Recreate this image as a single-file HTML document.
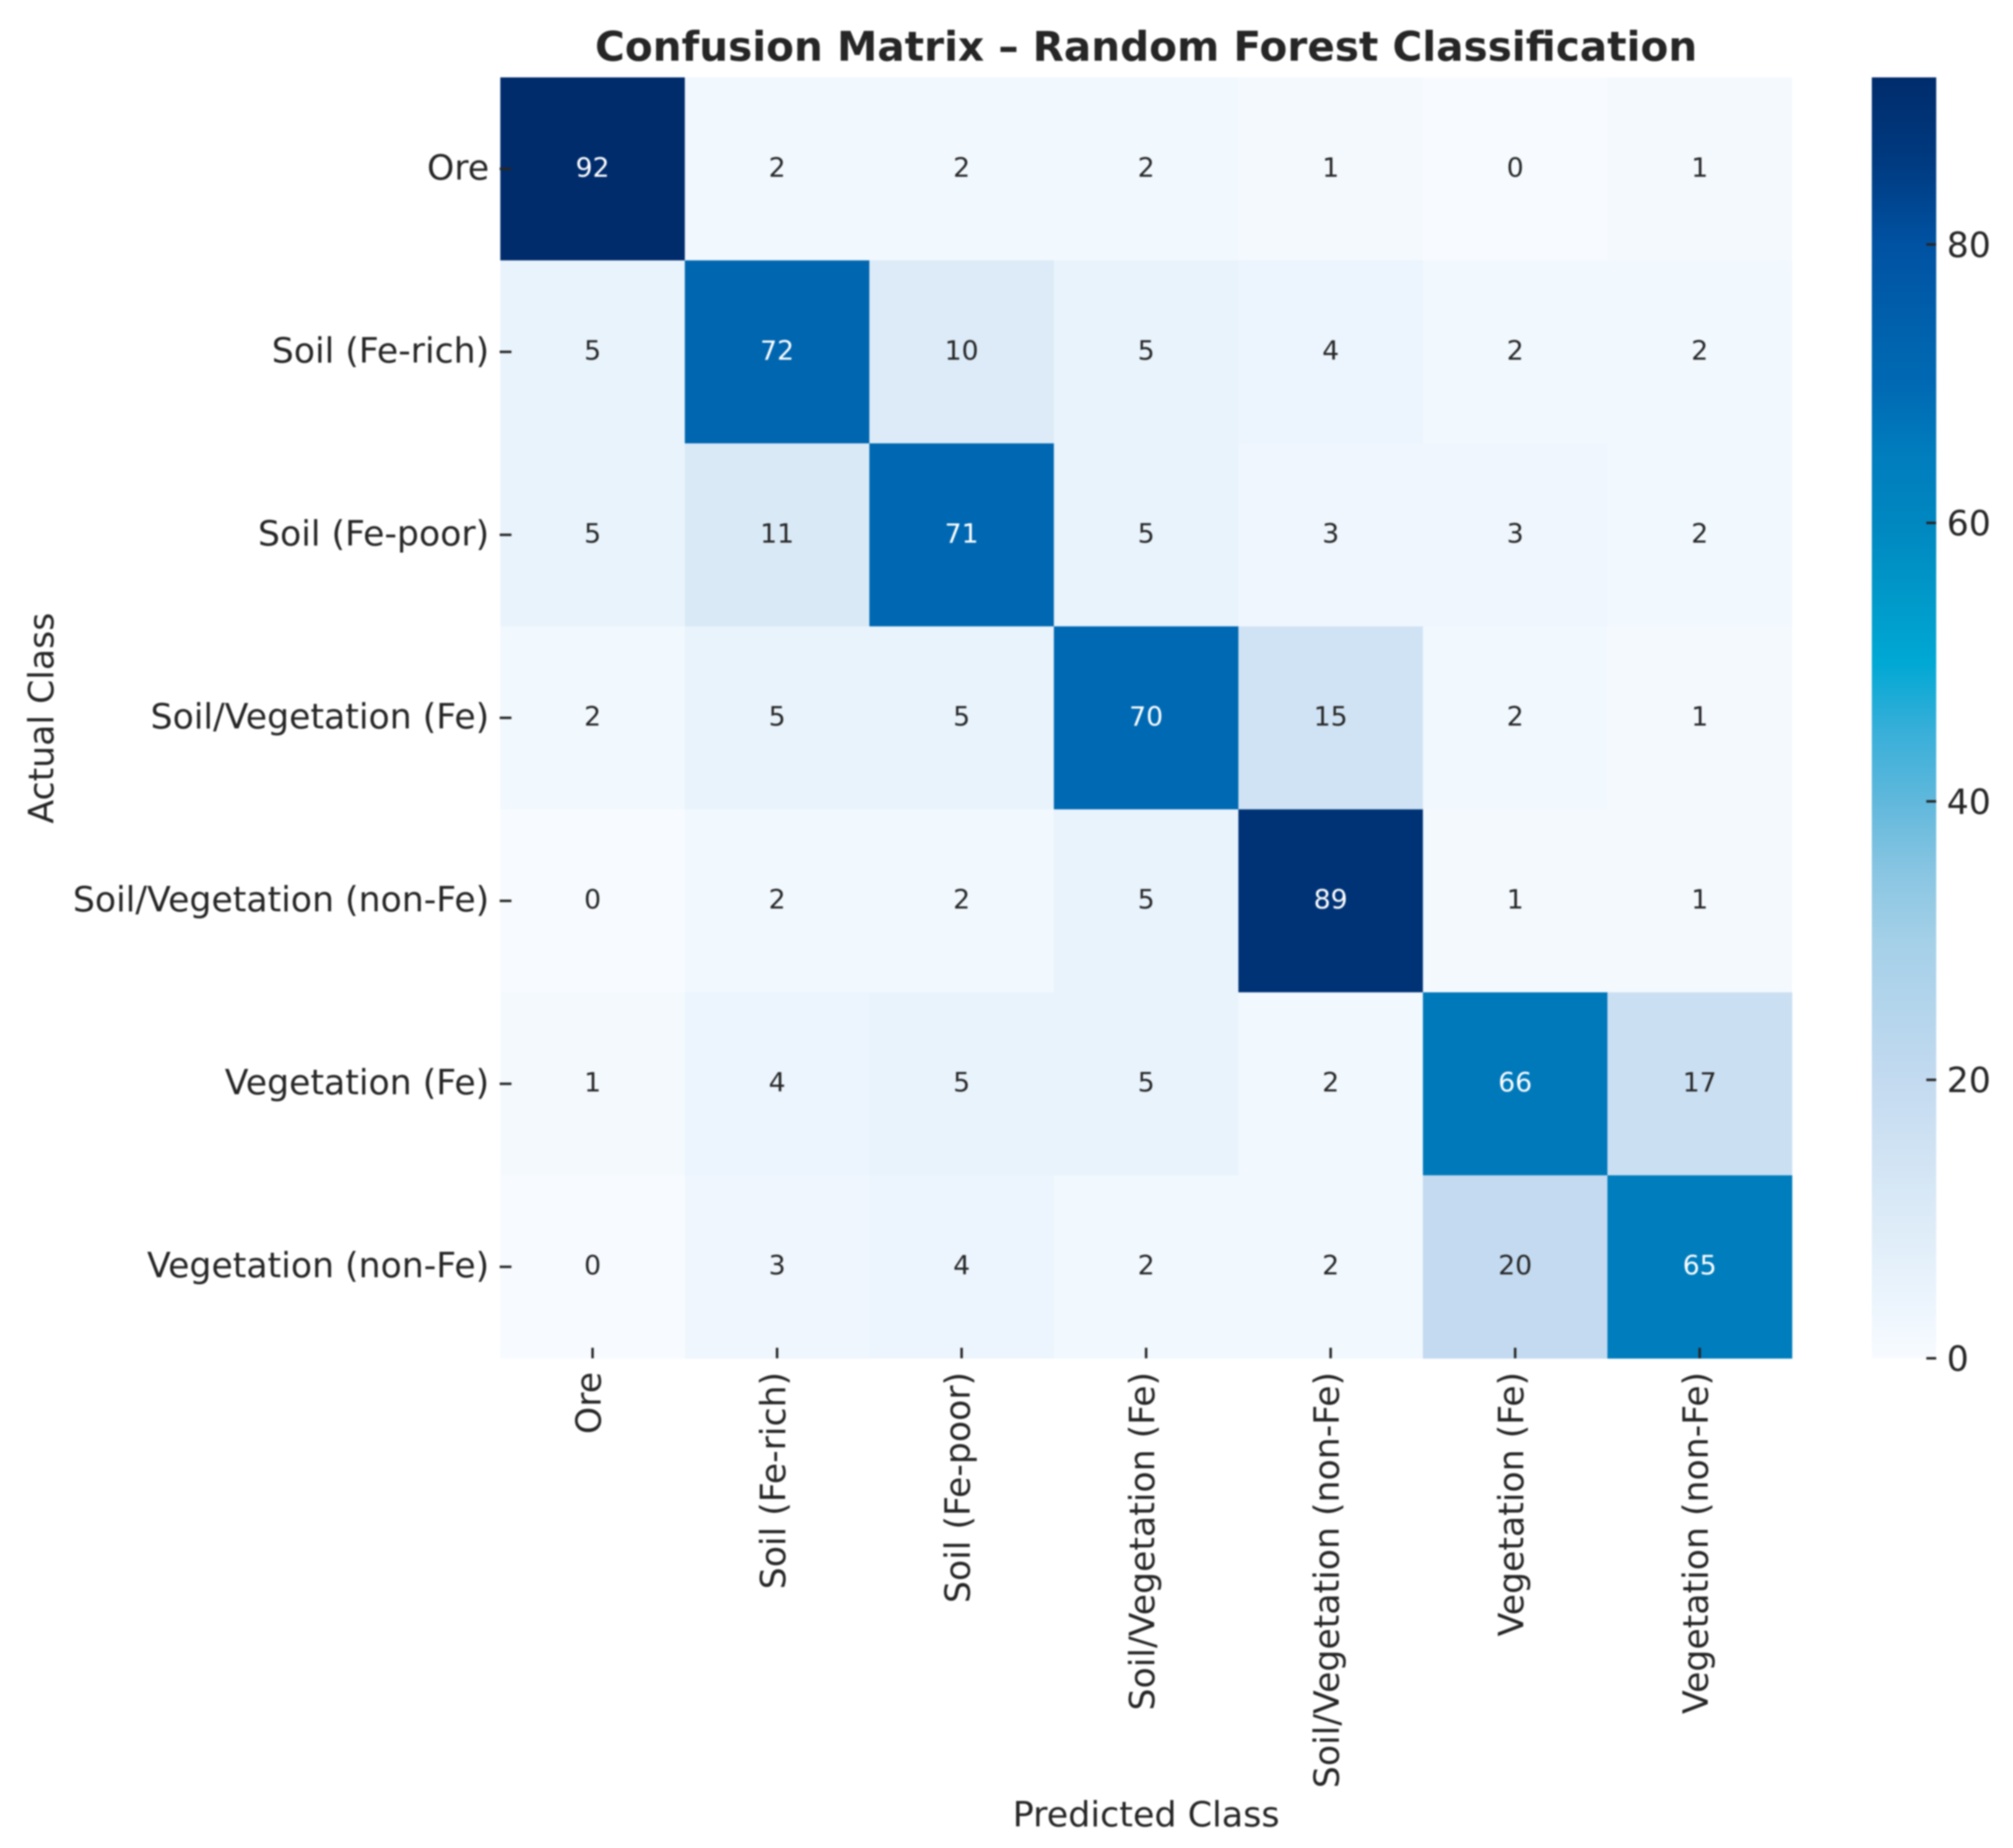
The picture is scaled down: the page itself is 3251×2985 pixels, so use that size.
<!DOCTYPE html>
<html lang="en">
<head>
<meta charset="utf-8">
<title>Confusion Matrix – Random Forest Classification</title>
<style>
html,body{margin:0;padding:0;background:#fff;width:3251px;height:2985px;overflow:hidden}
svg{display:block;filter:blur(1.2px)}
text{font-family:"DejaVu Sans","Liberation Sans",sans-serif;fill:#262626}
</style>
</head>
<body>
<svg id="chart" xmlns="http://www.w3.org/2000/svg" width="3251" height="2985" viewBox="0 0 3251 2985">
  <defs>
    <linearGradient id="cbar-gradient" x1="0" y1="1" x2="0" y2="0"></linearGradient>
  </defs>
  <rect x="0" y="0" width="3251" height="2985" fill="#ffffff"/>
  <text x="1851" y="98" text-anchor="middle" font-size="65.5" font-weight="700">Confusion Matrix – Random Forest Classification</text>
  <text x="1851" y="2950" text-anchor="middle" font-size="56.4">Predicted Class</text>
  <text x="0" y="0" text-anchor="middle" font-size="56" transform="translate(86,1160) rotate(-90)">Actual Class</text>
  <g id="cells"></g>
  <g id="annotations"></g>
  <g id="x-axis"></g>
  <g id="y-axis"></g>
  <rect id="cbar" x="3023" y="125" width="104" height="2069" fill="url(#cbar-gradient)"/>
  <g id="cbar-axis"></g>
</svg>
<script>
const classLabels = ["Ore","Soil (Fe-rich)","Soil (Fe-poor)","Soil/Vegetation (Fe)","Soil/Vegetation (non-Fe)","Vegetation (Fe)","Vegetation (non-Fe)"];
const matrixRows = [
  [92,2,2,2,1,0,1],
  [5,72,10,5,4,2,2],
  [5,11,71,5,3,3,2],
  [2,5,5,70,15,2,1],
  [0,2,2,5,89,1,1],
  [1,4,5,5,2,66,17],
  [0,3,4,2,2,20,65]
];
const colorbarTicks = [0,20,40,60,80];
const colormapValues = [0,5,10,20,30,35,40,45,50,55,60,65,70,72,80,86,92];
const colormapColors = ["#f7fbff","#e9f3fc","#dcebf7","#c3daf0","#a4d0e8","#88c5e2","#60b8dc","#38afd9","#00a8d4","#0098c8","#0087c0","#007dbd","#0069b3","#0066b0","#0052a2","#003a80","#002c6c"];

const NS = "http://www.w3.org/2000/svg";
const plot = {left:808, right:2894, top:125, bottom:2194};
const valueMax = 92;
const xBand = i => plot.left + i * (plot.right - plot.left) / classLabels.length;
const yBand = i => plot.top + i * (plot.bottom - plot.top) / classLabels.length;
const cbarY = v => plot.bottom - v / valueMax * (plot.bottom - plot.top);

function hexToRgb(h){return [1,3,5].map(i=>parseInt(h.substr(i,2),16));}
function colorFor(v){
  for(let i=1;i<colormapValues.length;i++){
    if(v<=colormapValues[i]){
      const t=(v-colormapValues[i-1])/(colormapValues[i]-colormapValues[i-1]);
      const a=hexToRgb(colormapColors[i-1]),b=hexToRgb(colormapColors[i]);
      return "rgb("+a.map((c,k)=>Math.round(c+(b[k]-c)*t)).join(",")+")";
    }
  }
  return colormapColors[colormapColors.length-1];
}
function make(tag,attrs,parent,txt){
  const el=document.createElementNS(NS,tag);
  for(const k in attrs){el.setAttribute(k,attrs[k]);}
  if(txt!==undefined){el.textContent=txt;}
  parent.appendChild(el);
  return el;
}

const cellsG=document.getElementById("cells");
const annG=document.getElementById("annotations");
matrixRows.forEach((row,r)=>{
  row.forEach((v,c)=>{
    const x0=xBand(c),x1=xBand(c+1),y0=yBand(r),y1=yBand(r+1);
    const cell=make("rect",{x:x0,y:y0,width:x1-x0+0.5,height:y1-y0+0.5,fill:colorFor(v)},cellsG);
    
    
    const t=make("text",{x:(x0+x1)/2,y:(y0+y1)/2+12.5,"text-anchor":"middle","font-size":"43"},annG,String(v));
    t.style.fill=v>valueMax/2?"#ffffff":"#262626";
    
    
  });
});

const xG=document.getElementById("x-axis");
const yG=document.getElementById("y-axis");
classLabels.forEach((lab,i)=>{
  const cx=(xBand(i)+xBand(i+1))/2,cy=(yBand(i)+yBand(i+1))/2;
  const xt=make("line",{x1:cx,x2:cx,y1:plot.bottom-17,y2:plot.bottom,stroke:"#262626","stroke-width":"4"},xG);
  
  
  const xl=make("text",{"text-anchor":"end","font-size":"56",transform:"translate("+(cx+13)+",2216) rotate(-90)"},xG,lab);
  
  
  const yt=make("line",{x1:plot.left-1,x2:plot.left+18,y1:cy,y2:cy,stroke:"#262626","stroke-width":"4"},yG);
  
  
  const yl=make("text",{x:790,y:cy+17,"text-anchor":"end","font-size":"56"},yG,lab);
  
  
});

const grad=document.getElementById("cbar-gradient");
colormapValues.forEach(v=>{
  make("stop",{offset:(v/valueMax*100)+"%","stop-color":colorFor(v)},grad);
});
const cG=document.getElementById("cbar-axis");
colorbarTicks.forEach(v=>{
  const y=cbarY(v);
  const tk=make("line",{x1:3111,x2:3127,y1:y,y2:y,stroke:"#262626","stroke-width":"4"},cG);
  
  
  const tl=make("text",{x:3144,y:y+20,"font-size":"56"},cG,String(v));
  
  
});
</script>
</body>
</html>
